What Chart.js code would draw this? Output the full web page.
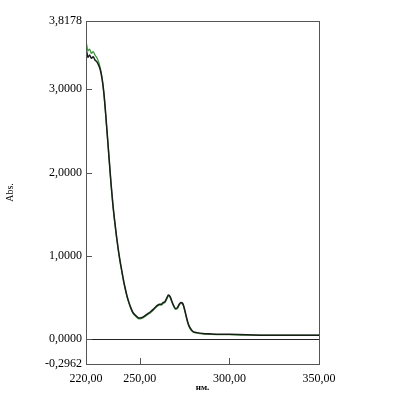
<!DOCTYPE html>
<html>
<head>
<meta charset="utf-8">
<script src="https://cdn.jsdelivr.net/npm/chart.js@4"></script>
<style>
html,body{margin:0;padding:0;background:#fff;}
#wrap{width:402px;height:400px;position:relative;}
</style>
</head>
<body>
<div id="wrap"><canvas id="c" width="402" height="400"></canvas></div>
<script>
const wavelengths = [220,220.5,221,222,223,224,225,226,227,228,229,230,231,232,233,234,235,236,237,238,239,240,241,242,243,244,245,246,247,248,249,250,252,254,256,258,260,261,262,263,264,265,266,267,268,269,270,271,272,273,274,275,276,277,278,279,280,282,285,290,300,310,320,330,340,350];
const absBlack = [3.46,3.44,3.38,3.41,3.37,3.39,3.35,3.33,3.29,3.23,3.12,2.95,2.70,2.42,2.14,1.86,1.62,1.42,1.24,1.08,0.94,0.82,0.70,0.60,0.51,0.44,0.38,0.33,0.30,0.28,0.26,0.255,0.27,0.30,0.33,0.37,0.41,0.42,0.42,0.44,0.45,0.49,0.53,0.51,0.45,0.40,0.37,0.38,0.42,0.44,0.43,0.36,0.27,0.19,0.14,0.11,0.09,0.08,0.07,0.065,0.06,0.055,0.05,0.05,0.05,0.05];
const absGreen = [3.57,3.52,3.46,3.48,3.43,3.45,3.41,3.38,3.33,3.25,3.13,2.94,2.69,2.41,2.13,1.85,1.61,1.41,1.23,1.07,0.93,0.81,0.69,0.59,0.50,0.43,0.37,0.32,0.29,0.27,0.25,0.245,0.26,0.29,0.32,0.36,0.40,0.41,0.41,0.43,0.44,0.48,0.52,0.50,0.44,0.39,0.36,0.37,0.41,0.43,0.42,0.35,0.26,0.18,0.13,0.10,0.085,0.075,0.065,0.06,0.055,0.05,0.05,0.05,0.05,0.05];
const xTickValues = [220,250,300,350];
const yTickValues = [-0.2962,0,1,2,3,3.8178];
const yInnerTicks = [0,1,2,3];
const xInnerTicks = [250,300];
const yLabel = 'Abs.';
const xLabel = 'нм.';

const toPts = arr => wavelengths.map((w,i)=>({x:w,y:arr[i]}));

const framePlugin = {
  id:'frame',
  afterDatasetsDraw(chart){
    const {ctx, chartArea:a, scales:{x,y}} = chart;
    ctx.save();
    ctx.strokeStyle = '#555';
    ctx.lineWidth = 1;
    ctx.strokeRect(a.left+0.5, a.top+0.5, a.right-a.left, a.bottom-a.top);
    ctx.beginPath();
    yInnerTicks.forEach(v=>{
      const py = Math.round(y.getPixelForValue(v))+0.5;
      ctx.moveTo(a.left, py); ctx.lineTo(a.left+6, py);
    });
    xInnerTicks.forEach(v=>{
      const px = Math.round(x.getPixelForValue(v))+0.5;
      ctx.moveTo(px, a.bottom); ctx.lineTo(px, a.bottom-6);
    });
    ctx.stroke();
    ctx.restore();
  }
};

new Chart(document.getElementById('c'), {
  type:'line',
  data:{
    datasets:[
      {label:'1', data:toPts(absBlack), borderColor:'#1c1c1c', borderWidth:1.5, pointRadius:0, fill:false, cubicInterpolationMode:'monotone'},
      {label:'2', data:toPts(absGreen), borderColor:'#3a9a3a', borderWidth:1.3, pointRadius:0, fill:false, cubicInterpolationMode:'monotone'}
    ]
  },
  options:{
    responsive:false,
    animation:false,
    layout:{padding:{top:21,right:83,left:0,bottom:0}},
    plugins:{legend:{display:false}, tooltip:{enabled:false}},
    scales:{
      x:{
        type:'linear', min:220, max:350,
        afterBuildTicks(s){ s.ticks = xTickValues.map(v=>({value:v})); },
        afterFit(s){ s.height = 36; },
        grid:{display:false, drawTicks:false},
        border:{display:false},
        ticks:{autoSkip:false, maxRotation:0, padding:8, color:'#000',
          font:{family:'Liberation Serif', size:12},
          callback:v=>Number(v).toFixed(2).replace('.',',')},
        title:{display:true, text:xLabel, color:'#000', padding:{top:0,bottom:7},
          font:{family:'Liberation Serif', size:9, weight:'bold'}}
      },
      y:{
        type:'linear', min:-0.2962, max:3.8178,
        afterBuildTicks(s){ s.ticks = yTickValues.map(v=>({value:v})); },
        afterFit(s){ s.width = 86; },
        grid:{drawTicks:false, drawOnChartArea:true,
          color:c=> (c.tick && c.tick.value===0) ? '#222' : 'rgba(0,0,0,0)', lineWidth:1},
        border:{display:false},
        ticks:{autoSkip:false, padding:4, color:'#000',
          font:{family:'Liberation Serif', size:12},
          callback:v=>Number(v).toFixed(4).replace('.',',')},
        title:{display:true, text:yLabel, color:'#000', padding:{top:4,bottom:0},
          font:{family:'Liberation Serif', size:10}}
      }
    }
  },
  plugins:[framePlugin]
});
</script>
</body>
</html>
